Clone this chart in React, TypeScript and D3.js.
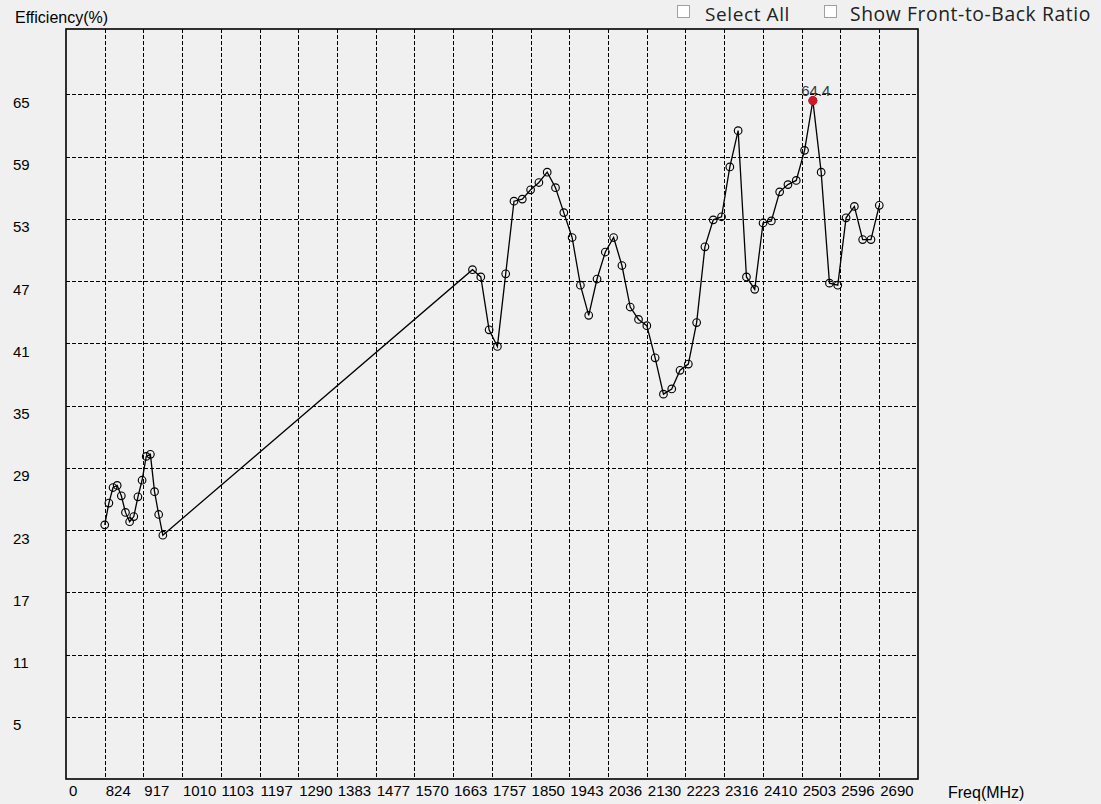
import React from "react";
import * as d3 from "d3";

const lowFreq = [824, 834, 844, 854, 864, 874, 884, 894, 904, 914, 924, 934, 944, 954, 964];
const lowEff = [23.5, 25.6, 27.1, 27.3, 26.3, 24.7, 23.8, 24.3, 26.2, 27.8, 30.1, 30.3, 26.7, 24.5, 22.5];

const highFreq = [
  1710, 1730, 1750, 1770, 1790, 1810, 1830, 1850, 1870, 1890,
  1910, 1930, 1950, 1970, 1990, 2010, 2030, 2050, 2070, 2090,
  2110, 2130, 2150, 2170, 2190, 2210, 2230, 2250, 2270, 2290,
  2310, 2330, 2350, 2370, 2390, 2410, 2430, 2450, 2470, 2490,
  2510, 2530, 2550, 2570, 2590, 2610, 2630, 2650, 2670, 2690,
];
const highEff = [
  48.1, 47.4, 42.3, 40.7, 47.7, 54.7, 54.9, 55.8, 56.5, 57.5,
  56.0, 53.6, 51.2, 46.6, 43.7, 47.2, 49.8, 51.2, 48.5, 44.5,
  43.3, 42.7, 39.6, 36.1, 36.6, 38.4, 39.0, 43.0, 50.3, 52.9,
  53.2, 58.0, 61.5, 47.4, 46.2, 52.6, 52.8, 55.6, 56.3, 56.7,
  59.6, 64.4, 57.5, 46.8, 46.6, 53.1, 54.2, 51.0, 51.0, 54.3,
];

const xTicks = [824, 917, 1010, 1103, 1197, 1290, 1383, 1477, 1570, 1663, 1757, 1850, 1943, 2036, 2130, 2223, 2316, 2410, 2503, 2596, 2690];
const yTicks = [65, 59, 53, 47, 41, 35, 29, 23, 17, 11, 5];

const peakFreq = 2530;
const peakEff = 64.4;

const W = 1101;
const H = 804;
const L = 66, R = 918, T = 29, B = 779;

export default function App() {
  const x = d3.scaleLinear().domain([730.7, 2783.3]).range([L, R]);
  const y = d3.scaleLinear().domain([-1, 71.3]).range([B, T]);

  const freqs = [...lowFreq, ...highFreq];
  const effs = [...lowEff, ...highEff];
  const pts = freqs.map((f, i) => [f, effs[i]] as [number, number]);
  const line = d3.line<[number, number]>().x(d => x(d[0])).y(d => y(d[1]));

  const font = "'Liberation Sans', Arial, sans-serif";
  const uiFont = "'Open Sans', 'Liberation Sans', sans-serif";

  return (
    <svg width={W} height={H} style={{ position: "absolute", left: 0, top: 0, background: "#f0f0f0" }}>
      <rect x={0} y={0} width={W} height={H} fill="#f0f0f0" />
      {/* grid */}
      {yTicks.map(v => (
        <line key={"gy" + v} x1={L} x2={R} y1={Math.round(y(v)) + 0.5} y2={Math.round(y(v)) + 0.5}
          stroke="#000" strokeWidth={1} strokeDasharray="4,2" />
      ))}
      {xTicks.map(v => (
        <line key={"gx" + v} y1={T} y2={B} x1={Math.round(x(v)) + 0.5} x2={Math.round(x(v)) + 0.5}
          stroke="#000" strokeWidth={1} strokeDasharray="4,2" />
      ))}
      <rect x={L} y={T} width={R - L} height={B - T} fill="none" stroke="#000" strokeWidth={1.6} />

      {/* y labels */}
      {yTicks.map(v => (
        <text key={"ly" + v} x={13} y={y(v) + 13.5} fontFamily={font} fontSize={15} fill="#000">{v}</text>
      ))}
      {/* x labels */}
      <text x={L + 3} y={796} fontFamily={font} fontSize={15} fill="#000">0</text>
      {xTicks.map(v => (
        <text key={"lx" + v} x={x(v) + 1} y={796} fontFamily={font} fontSize={15} fill="#000">{v}</text>
      ))}
      <text x={15} y={23} fontFamily={font} fontSize={16} fill="#000">Efficiency(%)</text>
      <text x={948} y={798} fontFamily={font} fontSize={16} fill="#000">Freq(MHz)</text>

      {/* data */}
      <path d={line(pts) || ""} fill="none" stroke="#000" strokeWidth={1.3} />
      {pts.map((p, i) => (
        <circle key={"c" + i} cx={x(p[0])} cy={y(p[1])} r={3.8} fill="none" stroke="#000" strokeWidth={1.15} />
      ))}
      <circle cx={x(peakFreq)} cy={y(peakEff)} r={4.5} fill="#d0182a" />
      <text x={x(peakFreq) + 3} y={y(peakEff) - 5} textAnchor="middle" fontFamily={font} fontSize={15} fill="#333a45">{peakEff}</text>

      {/* checkboxes */}
      <g>
        <rect x={677.5} y={5.5} width={12} height={12} fill="#fff" stroke="#a0a0a0" />
        <text x={705} y={21} fontFamily={uiFont} fontSize={19} letterSpacing={0.6} fill="#222">Select All</text>
        <rect x={824.5} y={5.5} width={12} height={12} fill="#fff" stroke="#a0a0a0" />
        <text x={850} y={21} fontFamily={uiFont} fontSize={19.3} letterSpacing={0.6} fill="#222">Show Front-to-Back Ratio</text>
      </g>
    </svg>
  );
}
